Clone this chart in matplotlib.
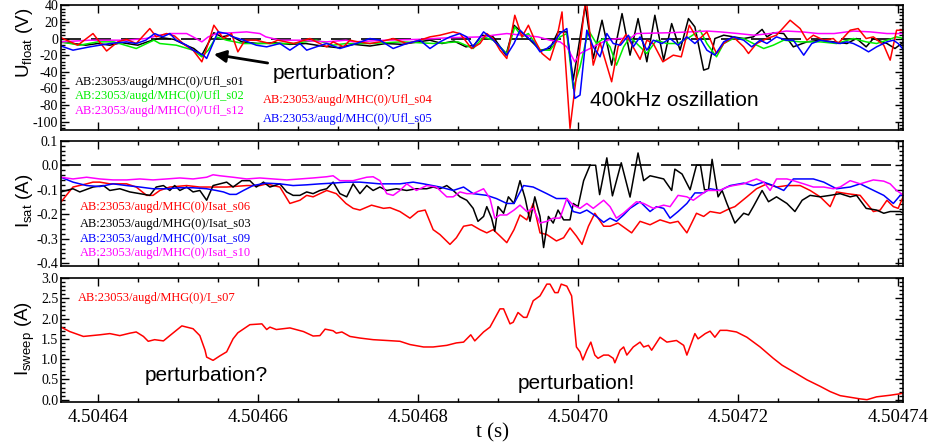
import matplotlib.pyplot as plt
import numpy as np
from matplotlib.ticker import MultipleLocator

plt.rcParams['font.family'] = 'Liberation Serif'
plt.rcParams['axes.unicode_minus'] = False

# time axis: t values are microseconds after T0
T0 = 4.50464
xticks = [4.50464, 4.50466, 4.50468, 4.50470, 4.50472, 4.50474]
xticklabels = ['4.50464', '4.50466', '4.50468', '4.50470', '4.50472', '4.50474']

# ---- U_float (V) ----
t_ufl_s01 = [-4.6, -3, -1.5, 0, 1.5, 3, 5, 6.5, 8, 9.5, 11, 12, 13, 14.5, 15.5, 16.5, 18, 20, 22, 24, 26, 28,
             30, 32, 34, 36, 38, 40, 41.5, 43, 44.5, 46, 47, 48, 49.4, 51, 52, 53.6, 55.3, 56.5, 57.5, 58.6,
             59.4, 60.9, 61.9, 63, 64.2, 65.5, 66.5, 67.5, 68.6, 69.6, 70.7, 71.7, 72.75, 73.8, 74.6, 75.7,
             76.3, 77.1, 78.2, 79.4, 80.7, 81.9, 83, 83.6, 84.4, 85.7, 86.9, 88.6, 90.25, 91.9, 93.6, 94.8,
             96, 96.9, 98.6, 99.6, 100.7]
ufl_s01 = [-4, -6, -8, -6, -8, -5, -8, -3, 1, -1, -8, -12, -20, 7, 2, 4, -4, -6, -5, -7, -6, -9,
           -11, -7, -9, -6, -7, -4, -2, -6, -3, -10, -8, 4, 2, -20, 16, 2, -14, -12, 8, 8,
           -50, 40, -24, 22, -32, 30, -20, 24, -28, 28, -26, 18, -14, 24, 14, -38,
           -36, 0, 4, 2, 0, 2, 11, 2, 7, 6, -10, -4, -2, -4, -6, 0,
           -10, 0, -6, -12, -4]

t_ufl_s02 = [-4.6, -2.25, 0, 2, 4.8, 7, 7.75, 9.8, 11.9, 13, 13.8, 14.8, 16.1, 18.2, 21, 24.4, 27.3, 29.4, 31,
             34, 38, 42, 45, 46.9, 48.2, 49.4, 51.1, 52.1, 53, 53.8, 55.25, 56.5, 57.75, 58.6, 59.4, 60.25,
             61.3, 62.3, 63.2, 64, 64.8, 65.7, 66.5, 67.75, 68.6, 69.8, 71.1, 72.5, 74, 75.25, 76.1, 77.3,
             78.2, 79.4, 80.7, 81.9, 83.2, 84.4, 85.7, 87.75, 90.25, 92.3, 94.4, 96, 97.3, 98.6, 99.8, 100.7]
ufl_s02 = [-4, -8, -4, -4, -12, -2, -6, -8, -14, -22, -14, 2, -2, -6, -6, -6, -2, -8, -6,
           -6, -4, -6, -4, -12, 2, -2, -18, 14, 2, 6, -14, -14, 2, 6, -60, -34,
           10, -6, 0, -10, -32, -10, 2, -10, -18, -2, -6, -6, 2, 10, -6, -22,
           -6, 0, 0, -6, -12, -8, -2, -4, -4, -6, 0, -4, -6, -2, 2, 0]

t_ufl_s12 = [-4.6, -1, 3.6, 6, 7.75, 9, 11.1, 11.9, 13, 13.8, 14.8, 16.9, 18.6, 20.25, 21, 22.75, 25.25,
             28.6, 31, 32, 36, 40, 44, 48, 49.4, 51.1, 53, 55, 56.5, 57.75, 58.6, 59.6, 60.25, 61.5,
             62.75, 63.6, 65, 66.5, 67.3, 71.5, 74, 76.1, 77.75, 80, 82, 84, 86, 88, 90, 92, 94.4,
             96.5, 98.6, 100.7]
ufl_s12 = [-4, -2, -2, 0, 4, 6, 6, 2, -4, 2, 6, 7, 8, 6, 2, -2, -2,
           -4, -2, -4, -2, -1, 1, 2, 4, 6, 4, 2, -2, -4, -10, -28, -18, -12,
           -6, -2, 0, 0, 6, 7, 8, 9, 8, 6, 4, 6, 9, 8, 6, 6, 9,
           8, 6, 6]

t_ufl_s04 = [-4.6, -2.5, -0.6, 1.1, 2.5, 3.6, 4.8, 6.5, 7.3, 8.6, 9.6, 10.9, 11.9, 13, 13.8, 14.5, 15.7,
             16.7, 17.5, 18.4, 19.8, 21.5, 22.5, 24.5, 26.5, 27.3, 28.6, 29.4, 30.7, 31.5, 32.5, 34, 35.25,
             36.9, 38.6, 40.25, 41.5, 42.75, 44.4, 45.25, 46.7, 47.75, 48.6, 49.4, 50.25, 51.1, 52.1, 53,
             53.8, 54.6, 55.5, 56.5, 57.3, 58, 59, 61, 61.9, 62.75, 64.2, 65, 66, 67.75, 68.6, 69.4, 70.6,
             71.9, 72.9, 73.9, 75, 76.1, 77.3, 78.2, 79.4, 80.7, 81.3, 82.3, 83.6, 84.8, 86.5, 87.75, 88.6,
             89.4, 90.7, 91.9, 92.5, 94, 95, 96, 96.9, 98.2, 99, 99.8, 100.7]
ufl_s04 = [1, -8, 6, -15, -4, -1, -6, 12, 2, 6, 3, -8, -14, -28, -6, 16, 0,
           6, -16, -2, -2, -6, -2, -6, 0, -4, -10, -4, -10, -2, -4, -6, -4,
           0, -6, -2, 2, 4, 8, 6, -12, -6, 6, 0, -14, -24, 28, 2,
           16, -2, -18, -26, -2, 32, -108, 50, -32, -5, -52, -10, 5, -25, -2, -6, -28,
           -20, -22, 16, -2, 8, -18, -6, 2, -10, -18, -6, 0, 4, 22, 12, -2,
           4, -2, 0, -6, 10, 12, 0, 2, -8, -26, 10, 10]

t_ufl_s05 = [-4.6, -3.1, -1, 1.5, 3.6, 4.8, 6, 7.1, 8.1, 9, 9.8, 11.1, 11.9, 13.2, 13.6, 15, 16.1, 16.9,
             18.2, 19.8, 21.1, 22.75, 24, 25.25, 26.1, 27.3, 28.6, 30.25, 32.3, 34, 35.25, 36.9, 38.6,
             40.25, 41.5, 42.75, 44, 45.25, 46.1, 46.9, 48.2, 49.2, 50.25, 51.1, 52, 52.75, 53.6, 54.4,
             55.25, 56.1, 56.9, 57.75, 58.6, 59.6, 60.25, 61.1, 61.9, 62.75, 63.6, 64.4, 65.3, 66.3,
             66.9, 67.75, 68.6, 69.4, 70.5, 71.5, 72.5, 73.6, 74.6, 75.25, 76.1, 77.1, 78.2, 79.4, 80.7,
             81.7, 82.75, 83.6, 84.8, 86, 86.9, 88.2, 89.2, 90.25, 91.5, 92.75, 93.6, 94.4, 95.25, 96.3,
             97.3, 98.6, 99.4, 100, 100.7]
ufl_s05 = [-9, -14, -10, -6, -4, -6, -2, 6, 2, 6, -2, -8, -14, -20, -24, 8, 6, 2,
           -2, -8, -10, -6, -14, -6, -14, -10, -6, -12, -6, 0, -2, -12, -6,
           -2, -12, -4, 2, 6, 2, -10, 8, 0, -10, -20, -6, 10, 2, -4,
           -16, -12, -6, 6, 12, -72, -68, 10, -10, -22, 6, -6, -8, 4,
           -10, 2, -14, -2, -6, 0, -8, 2, -6, 0, -14, -20, -4, 2, -2,
           -10, -2, -6, 2, -2, -2, -20, -6, -2, -4, -6, -4, -6, -10, -16,
           -10, -4, -2, -6, -14]

# ---- I_sat (A) ----
t_isat_s06 = [-4.6, -3.1, -1.4, -0.6, 0.25, 1.5, 3.6, 4.8, 6.1, 6.9, 7.75, 9, 11.1, 12.75, 14.4, 16.1,
              18.6, 20.25, 21.1, 21.9, 22.75, 24, 25.25, 26.1, 26.9, 28.2, 28.6, 29.8, 31, 31.9, 32.75,
              34.2, 35.7, 36.5, 37.75, 39, 40, 40.9, 41.9, 42.75, 44, 44.8, 45.7, 46.7, 47.75, 48.6, 49.4,
              50.25, 51.1, 52, 52.75, 53.6, 54.4, 55.25, 56.1, 57.3, 58.2, 59, 59.8, 60.5, 61.3, 62.1,
              63.2, 64, 65, 66.7, 67.75, 69, 70.25, 71.5, 72.5, 73.6, 74.8, 75.7, 76.5, 77.75, 79, 79.6,
              81.1, 82.3, 83.6, 84.8, 86.1, 87.75, 89, 90.25, 91.5, 92.3, 93.6, 95.25, 96.9, 97.75, 98.6,
              99.4, 100, 100.7]
isat_s06 = [-0.15, -0.089, -0.076, -0.069, -0.069, -0.076, -0.076, -0.089, -0.123, -0.123, -0.103, -0.089,
            -0.083, -0.089, -0.089, -0.089, -0.083, -0.083, -0.076, -0.083, -0.089, -0.156, -0.143, -0.123,
            -0.129, -0.109, -0.103, -0.116, -0.156, -0.176, -0.183, -0.163, -0.176, -0.173, -0.189, -0.216,
            -0.189, -0.183, -0.263, -0.283, -0.323, -0.296, -0.249, -0.243, -0.263, -0.276, -0.263, -0.289,
            -0.316, -0.263, -0.203, -0.223, -0.156, -0.276, -0.283, -0.309, -0.296, -0.256, -0.289, -0.323,
            -0.249, -0.196, -0.249, -0.249, -0.236, -0.276, -0.229, -0.243, -0.223, -0.236, -0.229, -0.276,
            -0.196, -0.209, -0.189, -0.196, -0.176, -0.169, -0.129, -0.096, -0.076, -0.089, -0.083, -0.083,
            -0.103, -0.129, -0.169, -0.109, -0.116, -0.123, -0.189, -0.183, -0.143, -0.169, -0.176, -0.123]

t_isat_s03 = [-4.6, -3.1, -2.25, -0.6, 0.7, 1.5, 2.75, 4, 5.25, 6.5, 7.3, 8.2, 9, 9.6, 10.25, 11.1, 11.9,
              12.75, 13.6, 14.4, 15.25, 16.1, 16.9, 18, 19, 19.8, 20.7, 21.5, 22.75, 23.6, 24.4, 25.25,
              26.1, 26.9, 27.75, 28.6, 29.4, 30.25, 31.1, 31.9, 32.75, 33.6, 34.4, 35.25, 36.1, 37.3,
              38.6, 39.8, 41.1, 41.9, 42.75, 43.6, 44.4, 45.25, 46.1, 46.9, 47.5, 48.2, 48.6, 49.2, 49.6,
              50, 50.7, 51.3, 52, 52.75, 53.4, 54, 54.6, 55.25, 55.7, 56.3, 56.9, 57.5, 58.2, 59, 59.4,
              60, 60.7, 61.5, 62.2, 62.7, 63.6, 64.3, 65.4, 66.5, 67.5, 68.2, 69, 69.8, 70.7, 71.7, 72.1,
              73, 74, 74.8, 75.3, 75.8, 76.3, 76.75, 77.5, 78, 78.6, 79.6, 80.7, 81.3, 81.9, 83, 83.8,
              84.8, 86.1, 87.1, 88, 89, 90.25, 91.5, 92.75, 94, 94.8, 96, 97.3, 98.2, 99, 100.25, 100.7]
isat_s03 = [-0.109, -0.096, -0.109, -0.089, -0.083, -0.103, -0.096, -0.109, -0.116, -0.123, -0.089, -0.083,
            -0.103, -0.083, -0.103, -0.089, -0.109, -0.103, -0.143, -0.083, -0.076, -0.069, -0.089, -0.063,
            -0.063, -0.089, -0.069, -0.089, -0.076, -0.109, -0.123, -0.123, -0.109, -0.116, -0.103, -0.096,
            -0.069, -0.116, -0.129, -0.076, -0.116, -0.083, -0.103, -0.089, -0.103, -0.096, -0.103, -0.096,
            -0.096, -0.089, -0.096, -0.083, -0.103, -0.129, -0.143, -0.176, -0.229, -0.209, -0.169, -0.216,
            -0.269, -0.169, -0.196, -0.129, -0.156, -0.063, -0.136, -0.229, -0.129, -0.209, -0.336, -0.209,
            -0.236, -0.183, -0.223, -0.223, -0.156, -0.169, -0.063, 0.0, 0.0, -0.12, 0.03, -0.125, 0.01,
            -0.13, 0.05, -0.063, -0.043, -0.049, -0.056, -0.103, -0.016, -0.036, -0.1, 0.0, 0.0, -0.1, -0.1,
            0.024, -0.129, -0.103, -0.156, -0.236, -0.196, -0.203, -0.169, -0.103, -0.149, -0.129, -0.156,
            -0.189, -0.143, -0.123, -0.129, -0.123, -0.116, -0.129, -0.123, -0.176, -0.183, -0.196, -0.189,
            -0.189, -0.196]

t_isat_s09 = [-4.6, -3.1, -1.4, 0.25, 1.9, 3.6, 5.25, 6.9, 8.6, 10.25, 11.9, 13.6, 14.8, 15.7, 16.5, 17.3,
              18.2, 19.4, 21, 22.75, 24.4, 26.1, 27.75, 29.4, 31, 32.75, 35.25, 37.75, 39.4, 40.7, 42.75,
              44.4, 45.7, 46.9, 48.6, 49.8, 51.1, 52, 53.2, 54.4, 56.1, 57.3, 58.6, 59.4, 60.25, 61.1,
              62.3, 63.2, 64, 64.8, 65.7, 66.5, 67.75, 69, 69.8, 70.7, 71.5, 72.5, 73.6, 74.6, 75.7, 76.5,
              77.75, 79, 80.7, 81.9, 83.2, 84.4, 85.7, 86.9, 88.2, 89.4, 90.7, 92.3, 94, 95.25, 96.5, 98.2,
              99.4, 100.25, 100.7]
isat_s09 = [-0.049, -0.069, -0.083, -0.087, -0.076, -0.083, -0.089, -0.096, -0.096, -0.092, -0.092, -0.096,
            -0.103, -0.109, -0.119, -0.119, -0.103, -0.083, -0.073, -0.076, -0.083, -0.08, -0.076, -0.073,
            -0.069, -0.069, -0.076, -0.076, -0.069, -0.076, -0.089, -0.103, -0.089, -0.116, -0.123, -0.136,
            -0.156, -0.156, -0.083, -0.089, -0.116, -0.136, -0.136, -0.189, -0.196, -0.183, -0.209, -0.233,
            -0.216, -0.229, -0.203, -0.176, -0.149, -0.189, -0.169, -0.176, -0.216, -0.189, -0.156, -0.113,
            -0.113, -0.096, -0.103, -0.083, -0.073, -0.083, -0.069, -0.083, -0.103, -0.056, -0.056, -0.056,
            -0.069, -0.096, -0.089, -0.076, -0.096, -0.123, -0.156, -0.123, -0.12]

t_isat_s10 = [-4.6, -3.1, -1.4, 0.25, 1.9, 3.6, 5.25, 6.9, 8.6, 10.25, 11.9, 13.6, 14.4, 15.25, 16.9, 18.6,
              20.25, 21.9, 23.6, 25.25, 26.9, 28.6, 29.4, 30.25, 31.9, 33.6, 34.4, 35.25, 36.1, 36.9, 37.75,
              38.6, 39.8, 41.1, 42.3, 43.6, 44.4, 45.25, 46.1, 46.9, 48.2, 49, 49.6, 50.25, 51.1, 52, 52.75,
              53.6, 54.4, 55.25, 56.1, 56.9, 57.75, 58.6, 59.4, 60.25, 61.1, 61.9, 63.2, 64, 64.8, 65.7,
              67.3, 68.2, 69.4, 70.7, 71.5, 72.5, 73.6, 74.4, 75.25, 76.1, 77.75, 78.6, 79.4, 80.7, 81.7,
              82.3, 83.2, 84, 84.8, 86.1, 86.9, 88.2, 89.4, 90.7, 91.9, 92.75, 94, 95.25, 96.9, 98.2, 99,
              99.8, 100.7]
isat_s10 = [-0.049, -0.056, -0.049, -0.056, -0.06, -0.06, -0.056, -0.06, -0.056, -0.052, -0.056, -0.049,
            -0.039, -0.043, -0.049, -0.056, -0.052, -0.056, -0.06, -0.056, -0.052, -0.047, -0.043, -0.063,
            -0.063, -0.049, -0.047, -0.063, -0.116, -0.123, -0.103, -0.076, -0.103, -0.083, -0.089, -0.129,
            -0.129, -0.109, -0.116, -0.116, -0.096, -0.136, -0.216, -0.203, -0.203, -0.183, -0.163, -0.189,
            -0.176, -0.236, -0.229, -0.216, -0.216, -0.136, -0.163, -0.176, -0.156, -0.176, -0.143, -0.169,
            -0.216, -0.195, -0.149, -0.156, -0.176, -0.163, -0.169, -0.123, -0.129, -0.143, -0.123, -0.103,
            -0.103, -0.089, -0.083, -0.076, -0.063, -0.056, -0.069, -0.103, -0.056, -0.056, -0.063, -0.076,
            -0.089, -0.089, -0.096, -0.089, -0.063, -0.076, -0.06, -0.065, -0.076, -0.103, -0.123]

# ---- I_sweep (A) ----
t_isweep_s07 = [-4.6, -3.5, -1.8, 0.25, 1.5, 2.75, 4, 4.8, 5.7, 6.3, 7.1, 8.2, 9, 10.5, 11.9, 12.75, 13.4,
                13.6, 14.4, 15.25, 16.1, 16.9, 17.5, 19, 20.5, 21.1, 21.5, 22.3, 24, 25.7, 26.9, 27.75, 28.4,
                29.4, 29.8, 30.5, 31.5, 32.75, 34.4, 36.1, 37.75, 39, 40.7, 41.9, 43.6, 44.8, 45.7, 46.6,
                47.1, 48.2, 49, 50.25, 50.7, 51.5, 51.9, 52.5, 53.2, 53.6, 54.4, 55.25, 56.1, 56.5, 57.1,
                57.5, 57.9, 58.6, 59.2, 59.8, 60.25, 60.6, 61.1, 61.6, 62.1, 62.5, 63.2, 63.8, 64.4, 64.6,
                65.25, 65.7, 66.1, 66.9, 67.75, 68.2, 68.8, 69.2, 70.25, 71.1, 72.3, 73.2, 73.6, 74.6, 75,
                75.9, 76.5, 77.1, 77.75, 78.6, 79.8, 81.1, 82.75, 84.4, 85.5, 86.9, 88.6, 90.25, 91.5, 92.75,
                94, 95.25, 96.1, 97.3, 99, 100.7]
isweep_s07 = [1.79, 1.68, 1.56, 1.6, 1.63, 1.58, 1.64, 1.67, 1.56, 1.44, 1.48, 1.45, 1.58, 1.82, 1.75, 1.58,
              1.22, 1.05, 0.97, 1.08, 1.18, 1.5, 1.65, 1.85, 1.87, 1.73, 1.79, 1.73, 1.77, 1.68, 1.57, 1.58,
              1.74, 1.7, 1.64, 1.67, 1.56, 1.52, 1.48, 1.46, 1.44, 1.36, 1.3, 1.3, 1.34, 1.4, 1.42, 1.6,
              1.45, 1.67, 1.79, 2.24, 2.24, 1.87, 1.91, 2.15, 2.03, 2.03, 2.44, 2.56, 2.85, 2.85, 2.64,
              2.64, 2.85, 2.8, 2.56, 1.3, 1.18, 0.98, 1.22, 1.42, 1.1, 1.02, 1.1, 1.1, 1.02, 0.91,
              1.22, 1.3, 1.1, 1.3, 1.42, 1.3, 1.34, 1.22, 1.54, 1.42, 1.46, 1.34, 1.1, 1.63, 1.5,
              1.63, 1.69, 1.54, 1.71, 1.71, 1.67, 1.54, 1.3, 1.02, 0.85, 0.69, 0.49, 0.33, 0.2, 0.1,
              0.06, 0.02, 0.0, 0.07, 0.11, 0.16]


def sec(t_us):
    return T0 + np.array(t_us) * 1e-6


fig = plt.figure(figsize=(9.31, 4.47), dpi=100)
ax1 = fig.add_axes([0.0655, 0.7092, 0.9044, 0.279])
ax2 = fig.add_axes([0.0655, 0.4056, 0.9044, 0.2796])
ax3 = fig.add_axes([0.0655, 0.1013, 0.9044, 0.2767])

lw = 1.1
ax1.axhline(0, color='black', lw=1.2, ls=(0, (12, 6)))
ax1.plot(sec(t_ufl_s01), ufl_s01, color='black', lw=lw)
ax1.plot(sec(t_ufl_s02), ufl_s02, color='#00ee00', lw=lw)
ax1.plot(sec(t_ufl_s12), ufl_s12, color='#ff00ff', lw=lw)
ax1.plot(sec(t_ufl_s04), ufl_s04, color='#ff0000', lw=lw)
ax1.plot(sec(t_ufl_s05), ufl_s05, color='#0000ff', lw=lw)

ax2.axhline(0, color='black', lw=1.2, ls=(0, (12, 6)))
ax2.plot(sec(t_isat_s06), isat_s06, color='#ff0000', lw=lw)
ax2.plot(sec(t_isat_s03), isat_s03, color='black', lw=lw)
ax2.plot(sec(t_isat_s09), isat_s09, color='#0000ff', lw=lw)
ax2.plot(sec(t_isat_s10), isat_s10, color='#ff00ff', lw=lw)

ax3.plot(sec(t_isweep_s07), isweep_s07, color='#ff0000', lw=lw)

ax1.set_ylim(-110, 40)
ax1.set_yticks([-100, -80, -60, -40, -20, 0, 20, 40])
ax1.yaxis.set_minor_locator(MultipleLocator(4))
ax2.set_ylim(-0.41, 0.1)
ax2.set_yticks([-0.4, -0.3, -0.2, -0.1, 0.0, 0.1])
ax2.set_yticklabels(['-0.4', '-0.3', '-0.2', '-0.1', '0.0', '0.1'])
ax2.yaxis.set_minor_locator(MultipleLocator(0.02))
ax3.set_ylim(-0.05, 3.0)
ax3.set_yticks([0, 0.5, 1.0, 1.5, 2.0, 2.5, 3.0])
ax3.set_yticklabels(['0.0', '0.5', '1.0', '1.5', '2.0', '2.5', '3.0'])
ax3.yaxis.set_minor_locator(MultipleLocator(0.1))

minor_x = sec(np.arange(-5, 105, 5))
for ax in (ax1, ax2, ax3):
    ax.set_xticks(xticks)
    ax.set_xticks(minor_x, minor=True)
    ax.set_xlim(sec(-4.6), sec(100.6))
    ax.tick_params(which='both', direction='in', top=True, right=True, width=1)
    ax.tick_params(which='major', length=6)
    ax.tick_params(which='minor', length=3)
    ax.tick_params(axis='y', labelsize=10, pad=2)
    for s in ax.spines.values():
        s.set_linewidth(1.2)
ax1.set_xticklabels([])
ax2.set_xticklabels([])
ax3.set_xticklabels(xticklabels, fontsize=13.5)
ax3.tick_params(axis='x', pad=5)
ax3.set_xlabel('t (s)', fontsize=15)
ax3.xaxis.set_label_coords(0.512, -0.17)

sans = 'Liberation Sans'
ax1.text(-0.043, 0.70, r'U$_\mathregular{float}$ (V)', family=sans, fontsize=13.5, rotation=90,
         ha='center', va='center', transform=ax1.transAxes)
ax2.text(-0.043, 0.52, r'I$_\mathregular{sat}$ (A)', family=sans, fontsize=13.5, rotation=90,
         ha='center', va='center', transform=ax2.transAxes)
ax3.text(-0.043, 0.51, r'I$_\mathregular{sweep}$ (A)', family=sans, fontsize=13.5, rotation=90,
         ha='center', va='center', transform=ax3.transAxes)

ax1.text(0.016, 0.385, 'AB:23053/augd/MHC(0)/Ufl_s01', color='black', fontsize=9, transform=ax1.transAxes, va='center')
ax1.text(0.016, 0.27, 'AB:23053/augd/MHC(0)/Ufl_s02', color='#00ee00', fontsize=9, transform=ax1.transAxes, va='center')
ax1.text(0.016, 0.155, 'AB:23053/augd/MHC(0)/Ufl_s12', color='#ff00ff', fontsize=9, transform=ax1.transAxes, va='center')
ax1.text(0.240, 0.24, 'AB:23053/augd/MHC(0)/Ufl_s04', color='#ff0000', fontsize=9, transform=ax1.transAxes, va='center')
ax1.text(0.240, 0.09, 'AB:23053/augd/MHC(0)/Ufl_s05', color='#0000ff', fontsize=9, transform=ax1.transAxes, va='center')

ax1.annotate('perturbation?', xy=(sec(14.5), -19), xytext=(0.252, 0.45), textcoords='axes fraction',
             family=sans, fontsize=15, va='center', ha='left',
             arrowprops=dict(arrowstyle='-|>', color='black', lw=2, mutation_scale=18, shrinkA=2, shrinkB=0))
ax1.text(0.628, 0.24, '400kHz oszillation', family=sans, fontsize=15, transform=ax1.transAxes, va='center')

ax2.text(0.022, 0.47, 'AB:23053/augd/MHC(0)/Isat_s06', color='#ff0000', fontsize=9, transform=ax2.transAxes, va='center')
ax2.text(0.022, 0.335, 'AB:23053/augd/MHG(0)/Isat_s03', color='black', fontsize=9, transform=ax2.transAxes, va='center')
ax2.text(0.022, 0.215, 'AB:23053/augd/MHC(0)/Isat_s09', color='#0000ff', fontsize=9, transform=ax2.transAxes, va='center')
ax2.text(0.022, 0.1, 'AB:23053/augd/MHC(0)/Isat_s10', color='#ff00ff', fontsize=9, transform=ax2.transAxes, va='center')

ax3.text(0.020, 0.84, 'AB:23053/augd/MHG(0)/I_s07', color='#ff0000', fontsize=9, transform=ax3.transAxes, va='center')
ax3.text(0.100, 0.215, 'perturbation?', family=sans, fontsize=15, transform=ax3.transAxes, va='center')
ax3.text(0.542, 0.15, 'perturbation!', family=sans, fontsize=15, transform=ax3.transAxes, va='center')

plt.savefig('out.png', dpi=100)
